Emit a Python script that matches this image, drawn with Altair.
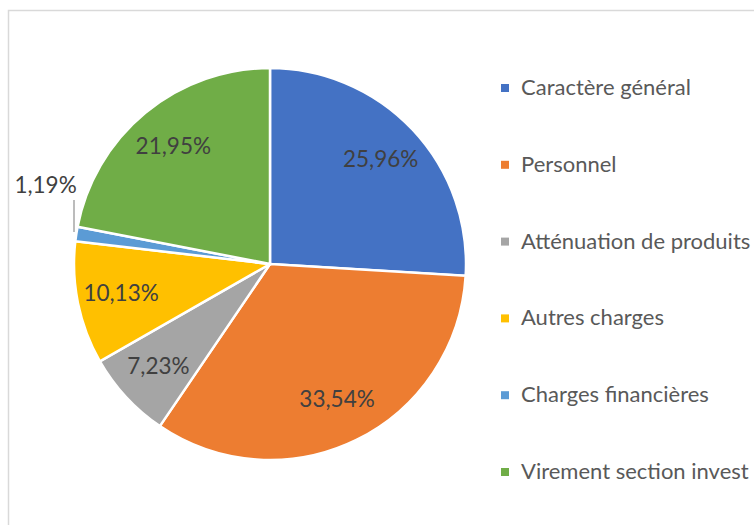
import altair as alt
import pandas as pd

categories = ["Caractère général", "Personnel", "Atténuation de produits",
              "Autres charges", "Charges financières", "Virement section invest"]
values = [25.96, 33.54, 7.23, 10.13, 1.19, 21.95]
labels = ["25,96%", "33,54%", "7,23%", "10,13%", "1,19%", "21,95%"]
colors = ["#4472C4", "#ED7D31", "#A5A5A5", "#FFC000", "#5B9BD5", "#70AD47"]

df = pd.DataFrame({
    "cat": categories,
    "value": values,
    "label": labels,
    "idx": list(range(len(categories))),
})

FONT = "Lato"
CX, CY, R = 270, 264, 196

base = alt.Chart(df).encode(
    theta=alt.Theta("value:Q", stack=True),
    order=alt.Order("idx:Q"),
)

pie = base.mark_arc(outerRadius=R, stroke="white", strokeWidth=2.5).encode(
    x=alt.value(CX), y=alt.value(CY),
    color=alt.Color("cat:N",
                    scale=alt.Scale(domain=categories, range=colors),
                    legend=alt.Legend(title=None, orient="none",
                                      legendX=494, legendY=77,
                                      symbolType="square", symbolSize=64,
                                      symbolStrokeWidth=0,
                                      labelFont=FONT, labelFontSize=22,
                                      labelColor="#595959", labelOffset=5,
                                      rowPadding=54.8, labelLimit=400)),
)

inner = base.transform_calculate(
    t="datum.value >= 2 ? datum.label : ''"
).mark_text(radius=152, font=FONT, fontSize=22.5, color="#404040").encode(
    x=alt.value(CX), y=alt.value(CY), text="t:N"
)

outer = base.transform_calculate(
    t="datum.value < 2 ? datum.label : ''"
).mark_text(radius=215, dx=-12, dy=-45, font=FONT, fontSize=22.5, color="#404040").encode(
    x=alt.value(CX), y=alt.value(CY), text="t:N"
)

leader = alt.Chart(df).transform_filter("datum.value < 2").mark_rule(
    color="#A6A6A6", strokeWidth=1.5
).encode(x=alt.value(74), y=alt.value(200), y2=alt.value(232))

border = alt.Chart(df).transform_filter("datum.idx == 0").mark_rect(
    fill=None, stroke="#D9D9D9", strokeWidth=1.5
).encode(x=alt.value(8.5), y=alt.value(10.5), x2=alt.value(900), y2=alt.value(900))

chart = alt.layer(border, pie, inner, outer, leader).properties(
    width=754, height=525,
    autosize=alt.AutoSizeParams(type="none"),
    padding=0,
    background="white",
).configure_view(stroke=None)

chart.save("out.html", embed_options={"renderer": "svg", "actions": False})
